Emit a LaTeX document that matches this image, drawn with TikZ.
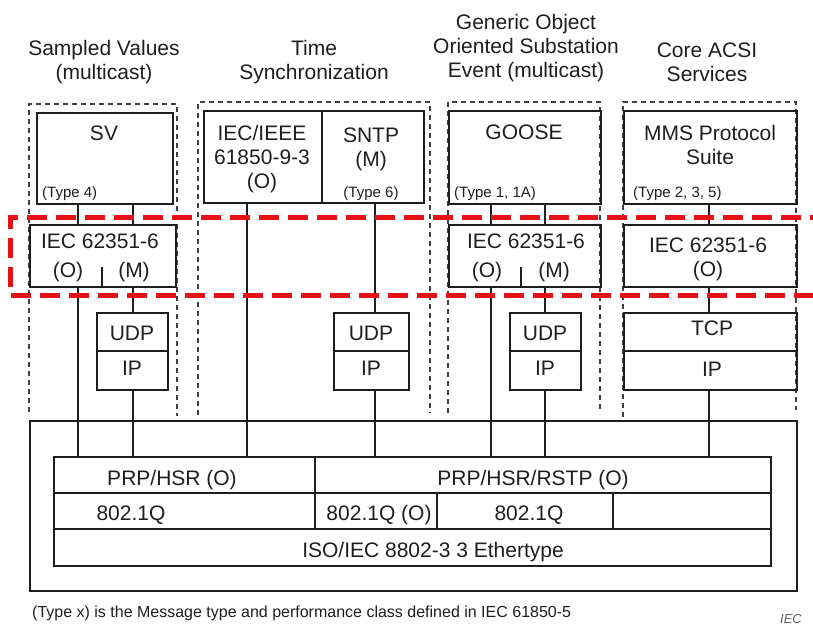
\documentclass[tikz,border=0pt]{standalone}
\usepackage{fontspec}
\setmainfont{Liberation Sans}
\definecolor{ink}{RGB}{30,30,30}
\definecolor{zonered}{RGB}{228,18,22}
\tikzset{
  box/.style={draw=ink, line width=1.7pt, inner sep=0pt, anchor=north west},
  wire/.style={draw=ink, line width=1.7pt},
  grp/.style={draw=ink!85, line width=1.3pt, dash pattern=on 5pt off 4pt},
  zone/.style={draw=zonered, line width=5pt, dash pattern=on 20pt off 9pt},
  txt/.style={text=ink, inner sep=0pt, anchor=base, align=center, font=\fontsize{21}{24}\selectfont},
  typ/.style={text=ink, inner sep=0pt, anchor=base west, font=\fontsize{15}{18}\selectfont}
}
\begin{document}
\begin{tikzpicture}[x=1pt,y=-1pt]
\useasboundingbox (0,0) rectangle (813,627);

% column titles (base = last line)
\node[txt] (tsv) at (104,79) {Sampled Values\\(multicast)};
\node[txt] (tts) at (314,79) {Time\\Synchronization};
\node[txt] (tgo) at (526,77) {Generic Object\\Oriented Substation\\Event (multicast)};
\node[txt] (tms) at (707,81) {Core ACSI\\Services};

% dashed groups
\draw[grp] (29,412)--(29,104)--(177,104)--(177,416);
\draw[grp] (198,415)--(198,102)--(430,102)--(430,413);
\draw[grp] (448,413)--(448,102)--(600,102)--(600,413);
\draw[grp] (623,417)--(623,102)--(796,102)--(796,410);

% application boxes
\node[box, minimum width=136, minimum height=91] (sv) at (36,112) {};
\node[box, minimum width=118, minimum height=92] (ieee) at (203,110) {};
\node[box, minimum width=102, minimum height=92] (sntp) at (321,110) {};
\node[box, minimum width=152, minimum height=93] (goose) at (448,110) {};
\node[box, minimum width=173, minimum height=93] (mms) at (623,110) {};

\node[txt] (svname) at (104,140) {SV};
\node[typ] (svtype) at (42,197) {(Type 4)};
\node[txt] (ieeename) at (262,188) {IEC/IEEE\\61850-9-3\\(O)};
\node[txt] (sntpname) at (371,166) {SNTP\\(M)};
\node[typ, anchor=base] (sntptype) at (371,197) {(Type 6)};
\node[txt] (goname) at (524,139) {GOOSE};
\node[typ] (gotype) at (454,197) {(Type 1, 1A)};
\node[txt] (mmsname) at (710,164) {MMS Protocol\\Suite};
\node[typ] (mmstype) at (633,197) {(Type 2, 3, 5)};

% security layer
\node[box, minimum width=146, minimum height=62] (iecsv) at (29,224) {};
\node[box, minimum width=152, minimum height=62] (iecgo) at (448,224) {};
\node[box, minimum width=173, minimum height=62] (iecms) at (623,224) {};
\node[txt] (iecsvt) at (100,248) {IEC 62351-6};
\node[txt] (iecsvo) at (68,277) {(O)};
\node[txt] (iecsvm) at (134,277) {(M)};
\node[txt] (iecgot) at (526,248) {IEC 62351-6};
\node[txt] (iecgoo) at (487,277) {(O)};
\node[txt] (iecgom) at (554,277) {(M)};
\node[txt] (iecmst) at (708,276) {IEC 62351-6\\(O)};

% transport boxes
\node[box, minimum width=71, minimum height=38] (udp1) at (96,312) {};
\node[box, minimum width=71, minimum height=39] (ip1) at (96,350) {};
\node[box, minimum width=75, minimum height=38] (udp2) at (333,312) {};
\node[box, minimum width=75, minimum height=39] (ip2) at (333,350) {};
\node[box, minimum width=71, minimum height=38] (udp3) at (509,312) {};
\node[box, minimum width=71, minimum height=39] (ip3) at (509,350) {};
\node[box, minimum width=173, minimum height=38] (tcp) at (623,312) {};
\node[box, minimum width=173, minimum height=39] (ip4) at (623,350) {};
\node[txt] (udp1t) at (132,340) {UDP};
\node[txt] (ip1t) at (132,375) {IP};
\node[txt] (udp2t) at (371,340) {UDP};
\node[txt] (ip2t) at (371,375) {IP};
\node[txt] (udp3t) at (545,340) {UDP};
\node[txt] (ip3t) at (545,375) {IP};
\node[txt] (tcpt) at (712,335) {TCP};
\node[txt] (ip4t) at (712,376) {IP};

% link layer
\node[box, minimum width=767, minimum height=170] (stack) at (29,420) {};
\node[box, minimum width=261, minimum height=36] (prp) at (53,456) {};
\node[box, minimum width=456, minimum height=36] (rstp) at (314,456) {};
\node[box, minimum width=261, minimum height=36] (vlan1) at (53,492) {};
\node[box, minimum width=122, minimum height=36] (vlan2) at (314,492) {};
\node[box, minimum width=176, minimum height=36] (vlan3) at (436,492) {};
\node[box, minimum width=158, minimum height=36] (vlan4) at (612,492) {};
\node[box, minimum width=717, minimum height=37] (eth) at (53,528) {};
\node[txt] (prpt) at (172,485) {PRP/HSR (O)};
\node[txt] (rstpt) at (533,485) {PRP/HSR/RSTP (O)};
\node[txt] (vlan1t) at (131,520) {802.1Q};
\node[txt] (vlan2t) at (379,520) {802.1Q (O)};
\node[txt] (vlan3t) at (529,520) {802.1Q};
\node[txt] (etht) at (433,557) {ISO/IEC 8802-3 3 Ethertype};

% wires
\coordinate (sva) at (78,0);
\coordinate (svb) at (133,0);
\coordinate (svm) at (102,0);
\coordinate (tsa) at (247,0);
\coordinate (tsb) at (375,0);
\coordinate (goa) at (491,0);
\coordinate (gob) at (545,0);
\coordinate (gom) at (521,0);
\coordinate (msa) at (709,0);
\draw[wire] (sv.south -| sva) -- (iecsv.north -| sva);
\draw[wire] (iecsv.south -| sva) -- (prp.north -| sva);
\draw[wire] (sv.south -| svb) -- (iecsv.north -| svb);
\draw[wire] (iecsv.south -| svb) -- (udp1.north -| svb);
\draw[wire] (ip1.south -| svb) -- (prp.north -| svb);
\draw[wire] (iecsv.south -| svm) -- ++(0,-21);
\draw[wire] (ieee.south -| tsa) -- (prp.north -| tsa);
\draw[wire] (sntp.south -| tsb) -- (udp2.north -| tsb);
\draw[wire] (ip2.south -| tsb) -- (rstp.north -| tsb);
\draw[wire] (goose.south -| goa) -- (iecgo.north -| goa);
\draw[wire] (iecgo.south -| goa) -- (rstp.north -| goa);
\draw[wire] (goose.south -| gob) -- (iecgo.north -| gob);
\draw[wire] (iecgo.south -| gob) -- (udp3.north -| gob);
\draw[wire] (ip3.south -| gob) -- (rstp.north -| gob);
\draw[wire] (iecgo.south -| gom) -- ++(0,-21);
\draw[wire] (mms.south -| msa) -- (iecms.north -| msa);
\draw[wire] (iecms.south -| msa) -- (tcp.north -| msa);
\draw[wire] (ip4.south -| msa) -- (rstp.north -| msa);

% highlighted zone
\draw[zone] (830,217)--(10,217)--(10,295)--(830,295);

% notes
\node[typ, font=\fontsize{16}{19}\selectfont] (note) at (32,617) {(Type x) is the Message type and performance class defined in IEC 61850-5};
\node[text=ink!70, inner sep=0pt, anchor=base east, font=\fontsize{13}{15}\itshape] (iec) at (802,623) {IEC};
\end{tikzpicture}
\end{document}
